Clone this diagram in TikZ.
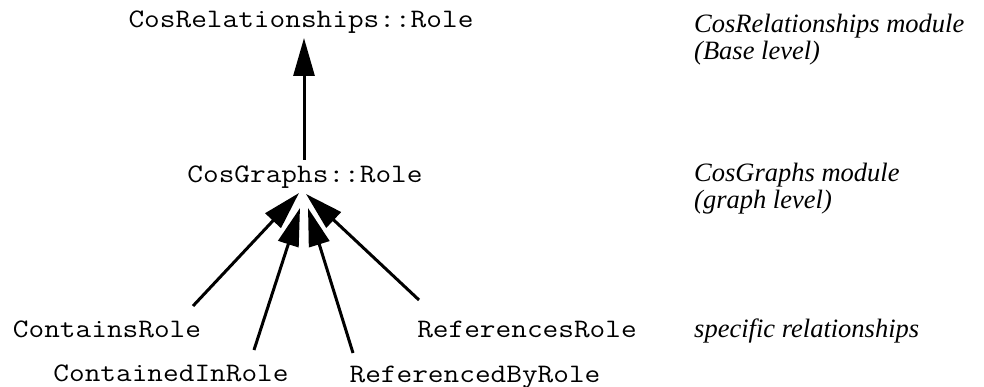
\documentclass[tikz,border=0pt]{standalone}
\usepackage{fontspec}
\setmainfont{Liberation Serif}
\setmonofont{Latin Modern Mono}[FakeStretch=1.14]
\usetikzlibrary{arrows.meta}
\begin{document}
\begin{tikzpicture}[x=1pt,y=-1pt,
  classname/.style={font=\ttfamily\fontsize{26.7}{30}\selectfont, inner sep=0pt, anchor=base},
  levelnote/.style={font=\itshape\fontsize{26.5}{27}\selectfont, inner sep=0pt, anchor=base west, align=left},
  inherit/.style={line width=3pt, -{Triangle[length=38pt,width=21pt]}}]
  \useasboundingbox (0,0) rectangle (984,387);

  % class names
  \node[classname] (base) at (301,28) {CosRelationships::Role};
  \node[classname] (graph) at (305,183) {CosGraphs::Role};
  \node[classname] (contains) at (107,337) {ContainsRole};
  \node[classname] (containedin) at (171,381) {ContainedInRole};
  \node[classname] (references) at (527,337) {ReferencesRole};
  \node[classname] (referencedby) at (475,382) {ReferencedByRole};

  % level notes (anchored on the baseline of their last line)
  \node[levelnote] (n1) at (694,60) {CosRelationships module\\(Base level)};
  \node[levelnote] (n2) at (694,209) {CosGraphs module\\(graph level)};
  \node[levelnote] (n3) at (694,337) {specific relationships};

  % connector ends
  \coordinate (graphtop) at (304,160);
  \coordinate (basetip) at (304,38);
  \coordinate (b1) at (193,306);
  \coordinate (t1) at (299,193);
  \coordinate (b2) at (254,350);
  \coordinate (t2) at (300,208);
  \coordinate (b3) at (353,353);
  \coordinate (t3) at (308,208);
  \coordinate (b4) at (419,300);
  \coordinate (t4) at (306,194);

  % inheritance arrows
  \draw[inherit] (graphtop) -- (basetip);
  \draw[inherit] (b1) -- (t1);
  \draw[inherit] (b2) -- (t2);
  \draw[inherit] (b3) -- (t3);
  \draw[inherit] (b4) -- (t4);
\end{tikzpicture}
\end{document}
